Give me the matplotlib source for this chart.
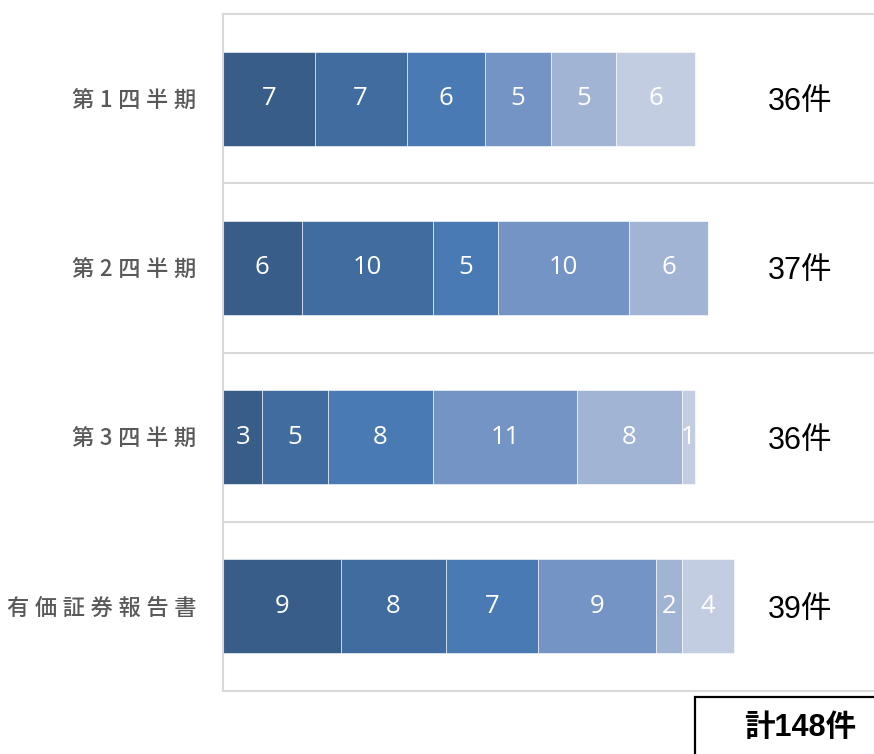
import matplotlib.pyplot as plt
from matplotlib.patches import Rectangle

plt.rcParams['font.family'] = ['Noto Sans CJK JP', 'DejaVu Sans']

# 区分ごとの件数（内訳6項目）
categories = ['第1四半期', '第2四半期', '第3四半期', '有価証券報告書']
series = [
    [7, 6, 3, 9],
    [7, 10, 5, 8],
    [6, 5, 8, 7],
    [5, 10, 11, 9],
    [5, 6, 8, 2],
    [6, 0, 1, 4],
]
totals = [36, 37, 36, 39]
grand_total = 148

colors = ['#385D89', '#416C9F', '#4A7AB4', '#7394C4', '#A2B4D4', '#C3CDE1']
grid_color = '#D9D9D9'

fig = plt.figure(figsize=(8.74, 7.54), dpi=100)
ax = fig.add_axes([223 / 874, 1 - 691 / 754, 651 / 874, 677 / 754])

ypos = list(range(len(categories)))
left = [0] * len(categories)
for vals, col in zip(series, colors):
    bars = ax.barh(ypos, vals, left=left, height=0.556, color=col,
                   edgecolor='#ffffff', linewidth=0.4)
    for b, v in zip(bars, vals):
        if v > 0:
            ax.text(b.get_x() + b.get_width() / 2, b.get_y() + b.get_height() / 2,
                    str(v), ha='center', va='center', color='white', fontsize=18.5,
                    family=['Open Sans', 'DejaVu Sans'])
    left = [l + v for l, v in zip(left, vals)]

# 右側の合計件数
for y, t in zip(ypos, totals):
    ax.text(44.0, y + 0.02, f'{t}件', ha='center', va='center', fontsize=22,
            color='black', family=['Liberation Sans', 'Noto Sans CJK JP'])

ax.set_xlim(0, 651 / 13.11)
ax.set_ylim(len(categories) - 0.5, -0.5)

# 区分の境界線
for b in [i - 0.5 for i in range(len(categories) + 1)]:
    ax.axhline(b, color=grid_color, lw=1.5, zorder=0, clip_on=False)

for s in ['top', 'right', 'bottom']:
    ax.spines[s].set_visible(False)
ax.spines['left'].set_color(grid_color)
ax.spines['left'].set_linewidth(1.5)

ax.set_xticks([])
ax.set_yticks(ypos)
ax.set_yticklabels(['\u2005'.join(c) for c in categories], fontsize=16,
                   color='#595959', fontweight='medium')
ax.tick_params(axis='y', length=0, pad=19)

# 合計の枠
fig.patches.append(Rectangle((695 / 874, -0.05), 0.5, 57 / 754 + 0.05,
                             transform=fig.transFigure, fill=False,
                             edgecolor='black', linewidth=1.6))
fig.text(800 / 874, 1 - 728 / 754, f'計{grand_total}件', ha='center', va='center',
         fontsize=22, fontweight='bold', color='black',
         family=['Liberation Sans', 'Noto Sans CJK JP'])

fig.savefig('out.png', dpi=100)
